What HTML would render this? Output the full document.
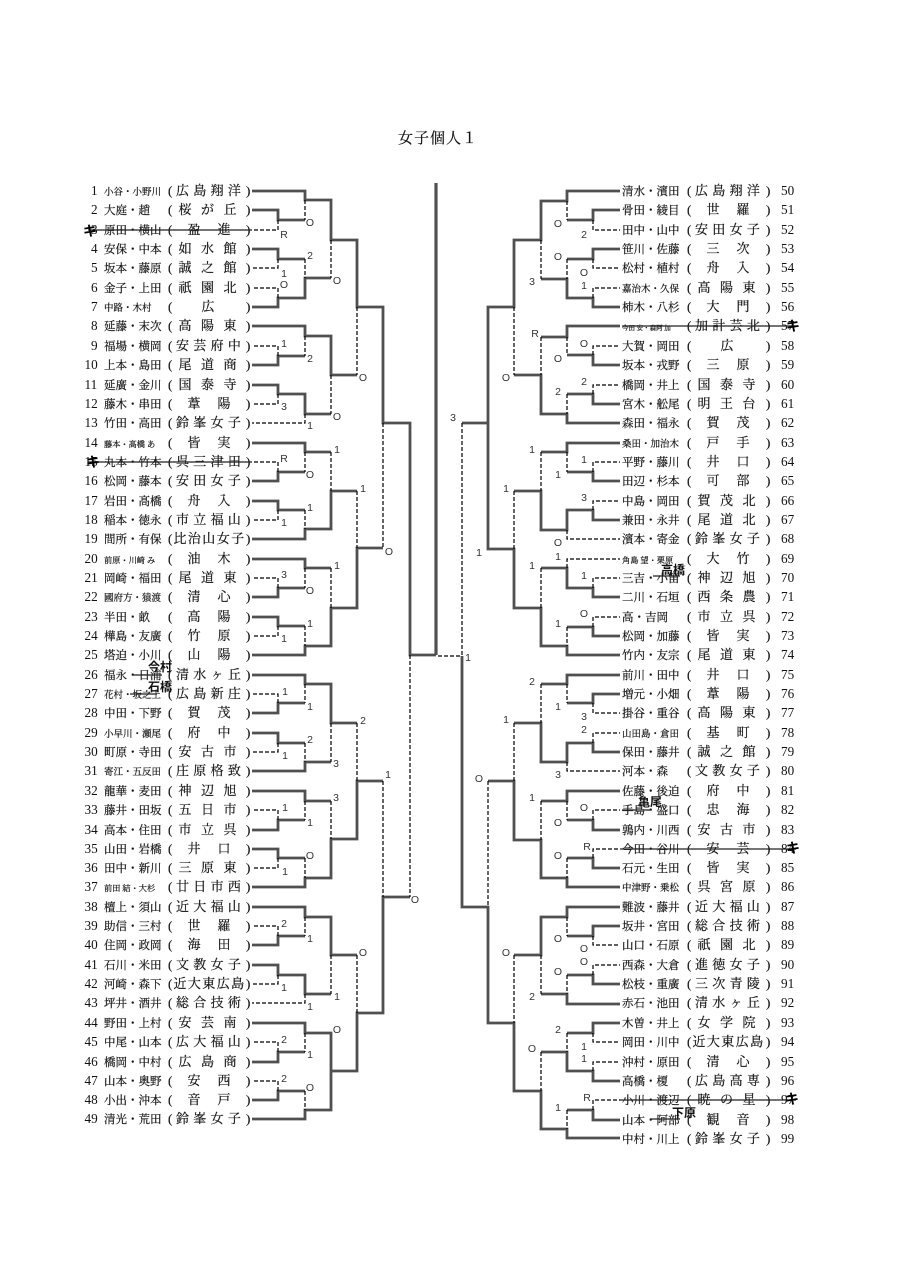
<!DOCTYPE html>
<html lang="ja"><head><meta charset="utf-8"><title>女子個人1</title>
<style>
html,body{margin:0;padding:0;background:#fff}
svg{display:block}
text{font-family:"Liberation Serif","Noto Serif CJK SC","Noto Serif CJK JP",serif;font-size:11.5px;fill:#111;stroke:#222;stroke-width:.22px}
.n{font-size:13.2px;stroke-width:0}
.a{font-size:9.5px}.b{font-size:8.2px}.c{font-size:6.5px}
.p{font-size:13px}
.s1,.s2,.s3,.s4,.s5{font-size:13px}
.s2{letter-spacing:17px}.s3{letter-spacing:9.5px}.s4{letter-spacing:4.3px}.s5{letter-spacing:1.4px}
.l text{font-family:"Liberation Sans",sans-serif;font-size:10.5px;text-anchor:middle;fill:#333;stroke-width:0}
.o text{font-family:"Noto Sans CJK JP",sans-serif;font-size:12px;font-weight:700;fill:#111;stroke-width:0}
.k text{font-family:"Noto Sans CJK JP",sans-serif;font-size:14px;font-weight:700;text-anchor:middle;fill:#000;stroke-width:0}
</style></head><body>
<svg width="905" height="1280" viewBox="0 0 905 1280" xmlns="http://www.w3.org/2000/svg">
<rect width="905" height="1280" fill="#fff"/>
<text x="398" y="143" style="font-size:15px;letter-spacing:1px">女子個人１</text>

<path fill="none" stroke="#505050" stroke-width="2.8" d="M252 191H305V200H331V240H357V307H383V423H410V655H436
M252 210H278V220H305
M252 249H278V259H305
M331 278H305V298H278V307H252
M252 326H305V336H331V375H357
M252 365H278V356H305
M252 385H278V394H305V414H331
M252 443H305V452H331
M252 481H278V472H305
M357 491H331V529H305V539H252
M252 501H278V510H305
M383 548H357V608H331V646H305V655H252
M252 559H305V568H331
M252 597H278V588H305
M252 617H278V626H305
M252 675H305V684H331V723H357
M252 713H278V703H305
M252 733H278V743H305
M252 771H305V762H331
M252 791H305V801H331
M252 830H278V820H305
M383 781H357V839H331V878H305V887H252
M252 849H278V858H305
M410 897H383V1013H357V1071H331
M252 907H305V917H331V955H357
M252 945H278V936H305
M252 965H278V975H305V994H331
M252 1023H305V1033H331V1110H305V1119H252
M252 1062H278V1052H305
M252 1100H278V1091H305
M620 191H567V201H541V240H514V307H488V549H514V608H541V646H567V655H620
M462 423H488
M620 210H593V220H567
M620 249H593V259H567
M514 375H541V414H567V423H620
M541 279H567V298H593V307H620
M620 326H567V337H541
M620 365H593V355H567
M620 404H593V394H567
M620 443H567V452H541
M620 481H593V472H567
M514 491H541V530H567V510H593V520H620
M541 568H567V588H593V597H620
M567 627H593V636H620
M620 675H567V684H541
M620 694H593V703H567
M514 723H541V762H567V743H593V752H620
M488 781H514V840H541V878H567V887H620
M620 791H567V801H541
M620 830H593V820H567
M620 868H593V858H567
M462 656V907H488V1023H514V1091H541V1129H567V1138H620
M514 955H541V917H567V907H620
M620 926H593V936H567
M541 994H567V1004H620
M567 975H593V984H620
M541 1052H567V1071H593V1081H620
M567 1033H593V1023H620
M567 1110H593V1120H620"/>
<path fill="none" stroke="#505050" stroke-width="3.2" d="M436 183V655"/>

<path fill="none" stroke="#000" stroke-width="1.2" stroke-dasharray="4 2" d="M305 200V220M278 220V230H252M331 240V278M305 259V278M278 259V268H252M278 298V288H252M357 307V375M305 336V356M278 356V346H252M331 375V414M278 394V404H252M305 414V423H252M383 423V548M305 452V472M278 472V462H252M331 452V491M357 491V548M278 510V520H252M305 510V529M305 568V588M278 588V578H252M331 568V608M278 626V636H252M305 626V646M410 655V897M305 684V703M278 703V694H252M331 723V762M305 743V762M278 743V752H252M357 723V781M305 801V820M278 820V810H252M331 801V839M305 858V878M278 858V868H252M383 781V897M305 917V936M278 936V926H252M331 955V994M278 975V984H252M305 994V1003H252M357 955V1013M305 1033V1052M278 1052V1042H252M278 1091V1081H252M305 1091V1110
M438 656H462M462 423V655
M567 201V220M593 220V230H620M567 259V279M593 259V268H620M593 298V288H620M541 240V279M514 307V375M541 337V375M567 337V355M593 355V346H620M593 394V385H620M567 394V414M567 452V472M593 472V462H620M541 452V491M514 491V549M593 510V501H620M567 530V539H620M567 568V559H620M593 588V578H620M541 568V608M593 627V617H620M567 627V646M567 684V703M593 703V713H620M541 684V723M514 723V781M593 743V733H620M567 762V771H620M488 781V907M567 801V820M593 820V810H620M541 801V840M567 858V878M593 858V849H620M567 917V936M593 936V945H620M514 955V1023M541 955V994M567 975V994M593 975V965H620M567 1033V1052M593 1033V1042H620M541 1052V1091M593 1071V1062H620M593 1110V1100H620M567 1110V1129"/>

<g>
<text y="195"><tspan class="n" x="91">1</tspan><tspan class="a" x="104">小谷・小野川</tspan><tspan class="p" x="168">(</tspan><tspan class="s4" x="176">広島翔洋</tspan><tspan class="p" x="246">)</tspan></text>
<text y="214"><tspan class="n" x="91">2</tspan><tspan x="104">大庭・趙</tspan><tspan class="p" x="168">(</tspan><tspan class="s3" x="178.5">桜が丘</tspan><tspan class="p" x="246">)</tspan></text>
<text y="234"><tspan class="n" x="91">3</tspan><tspan x="104">原田・横山</tspan><tspan class="p" x="168">(</tspan><tspan class="s2" x="187.5">盈進</tspan><tspan class="p" x="246">)</tspan></text>
<text y="253"><tspan class="n" x="91">4</tspan><tspan x="104">安保・中本</tspan><tspan class="p" x="168">(</tspan><tspan class="s3" x="178.5">如水館</tspan><tspan class="p" x="246">)</tspan></text>
<text y="272"><tspan class="n" x="91">5</tspan><tspan x="104">坂本・藤原</tspan><tspan class="p" x="168">(</tspan><tspan class="s3" x="178.5">誠之館</tspan><tspan class="p" x="246">)</tspan></text>
<text y="292"><tspan class="n" x="91">6</tspan><tspan x="104">金子・上田</tspan><tspan class="p" x="168">(</tspan><tspan class="s3" x="178.5">祇園北</tspan><tspan class="p" x="246">)</tspan></text>
<text y="311"><tspan class="n" x="91">7</tspan><tspan class="a" x="104">中路・木村</tspan><tspan class="p" x="168">(</tspan><tspan class="s1" x="201.5">広</tspan><tspan class="p" x="246">)</tspan></text>
<text y="330"><tspan class="n" x="91">8</tspan><tspan x="104">延藤・末次</tspan><tspan class="p" x="168">(</tspan><tspan class="s3" x="178.5">高陽東</tspan><tspan class="p" x="246">)</tspan></text>
<text y="350"><tspan class="n" x="91">9</tspan><tspan x="104">福場・横岡</tspan><tspan class="p" x="168">(</tspan><tspan class="s4" x="176">安芸府中</tspan><tspan class="p" x="246">)</tspan></text>
<text y="369"><tspan class="n" x="84.5">10</tspan><tspan x="104">上本・島田</tspan><tspan class="p" x="168">(</tspan><tspan class="s3" x="178.5">尾道商</tspan><tspan class="p" x="246">)</tspan></text>
<text y="389"><tspan class="n" x="84.5">11</tspan><tspan x="104">延廣・金川</tspan><tspan class="p" x="168">(</tspan><tspan class="s3" x="178.5">国泰寺</tspan><tspan class="p" x="246">)</tspan></text>
<text y="408"><tspan class="n" x="84.5">12</tspan><tspan x="104">藤木・串田</tspan><tspan class="p" x="168">(</tspan><tspan class="s2" x="187.5">葦陽</tspan><tspan class="p" x="246">)</tspan></text>
<text y="427"><tspan class="n" x="84.5">13</tspan><tspan x="104">竹田・高田</tspan><tspan class="p" x="168">(</tspan><tspan class="s4" x="176">鈴峯女子</tspan><tspan class="p" x="246">)</tspan></text>
<text y="447"><tspan class="n" x="84.5">14</tspan><tspan class="b" x="104">藤本・髙橋 あ</tspan><tspan class="p" x="168">(</tspan><tspan class="s2" x="187.5">皆実</tspan><tspan class="p" x="246">)</tspan></text>
<text y="466"><tspan class="n" x="84.5">15</tspan><tspan x="104">丸本・竹本</tspan><tspan class="p" x="168">(</tspan><tspan class="s4" x="176">呉三津田</tspan><tspan class="p" x="246">)</tspan></text>
<text y="485"><tspan class="n" x="84.5">16</tspan><tspan x="104">松岡・藤本</tspan><tspan class="p" x="168">(</tspan><tspan class="s4" x="176">安田女子</tspan><tspan class="p" x="246">)</tspan></text>
<text y="505"><tspan class="n" x="84.5">17</tspan><tspan x="104">岩田・髙橋</tspan><tspan class="p" x="168">(</tspan><tspan class="s2" x="187.5">舟入</tspan><tspan class="p" x="246">)</tspan></text>
<text y="524"><tspan class="n" x="84.5">18</tspan><tspan x="104">稲本・徳永</tspan><tspan class="p" x="168">(</tspan><tspan class="s4" x="176">市立福山</tspan><tspan class="p" x="246">)</tspan></text>
<text y="543"><tspan class="n" x="84.5">19</tspan><tspan x="104">間所・有保</tspan><tspan class="p" x="168">(</tspan><tspan class="s5" x="173.5">比治山女子</tspan><tspan class="p" x="246">)</tspan></text>
<text y="563"><tspan class="n" x="84.5">20</tspan><tspan class="b" x="104">前原・川崎 み</tspan><tspan class="p" x="168">(</tspan><tspan class="s2" x="187.5">油木</tspan><tspan class="p" x="246">)</tspan></text>
<text y="582"><tspan class="n" x="84.5">21</tspan><tspan x="104">岡崎・福田</tspan><tspan class="p" x="168">(</tspan><tspan class="s3" x="178.5">尾道東</tspan><tspan class="p" x="246">)</tspan></text>
<text y="601"><tspan class="n" x="84.5">22</tspan><tspan class="a" x="104">國府方・猿渡</tspan><tspan class="p" x="168">(</tspan><tspan class="s2" x="187.5">清心</tspan><tspan class="p" x="246">)</tspan></text>
<text y="621"><tspan class="n" x="84.5">23</tspan><tspan x="104">半田・畝</tspan><tspan class="p" x="168">(</tspan><tspan class="s2" x="187.5">高陽</tspan><tspan class="p" x="246">)</tspan></text>
<text y="640"><tspan class="n" x="84.5">24</tspan><tspan x="104">樺島・友廣</tspan><tspan class="p" x="168">(</tspan><tspan class="s2" x="187.5">竹原</tspan><tspan class="p" x="246">)</tspan></text>
<text y="659"><tspan class="n" x="84.5">25</tspan><tspan x="104">塔迫・小川</tspan><tspan class="p" x="168">(</tspan><tspan class="s2" x="187.5">山陽</tspan><tspan class="p" x="246">)</tspan></text>
<text y="679"><tspan class="n" x="84.5">26</tspan><tspan x="104">福永・日浦</tspan><tspan class="p" x="168">(</tspan><tspan class="s4" x="176">清水ヶ丘</tspan><tspan class="p" x="246">)</tspan></text>
<text y="698"><tspan class="n" x="84.5">27</tspan><tspan class="a" x="104">花村・坂之上</tspan><tspan class="p" x="168">(</tspan><tspan class="s4" x="176">広島新庄</tspan><tspan class="p" x="246">)</tspan></text>
<text y="717"><tspan class="n" x="84.5">28</tspan><tspan x="104">中田・下野</tspan><tspan class="p" x="168">(</tspan><tspan class="s2" x="187.5">賀茂</tspan><tspan class="p" x="246">)</tspan></text>
<text y="737"><tspan class="n" x="84.5">29</tspan><tspan class="a" x="104">小早川・瀬尾</tspan><tspan class="p" x="168">(</tspan><tspan class="s2" x="187.5">府中</tspan><tspan class="p" x="246">)</tspan></text>
<text y="756"><tspan class="n" x="84.5">30</tspan><tspan x="104">町原・寺田</tspan><tspan class="p" x="168">(</tspan><tspan class="s3" x="178.5">安古市</tspan><tspan class="p" x="246">)</tspan></text>
<text y="775"><tspan class="n" x="84.5">31</tspan><tspan class="a" x="104">寄江・五反田</tspan><tspan class="p" x="168">(</tspan><tspan class="s4" x="176">庄原格致</tspan><tspan class="p" x="246">)</tspan></text>
<text y="795"><tspan class="n" x="84.5">32</tspan><tspan x="104">龍華・麦田</tspan><tspan class="p" x="168">(</tspan><tspan class="s3" x="178.5">神辺旭</tspan><tspan class="p" x="246">)</tspan></text>
<text y="814"><tspan class="n" x="84.5">33</tspan><tspan x="104">藤井・田坂</tspan><tspan class="p" x="168">(</tspan><tspan class="s3" x="178.5">五日市</tspan><tspan class="p" x="246">)</tspan></text>
<text y="834"><tspan class="n" x="84.5">34</tspan><tspan x="104">高本・住田</tspan><tspan class="p" x="168">(</tspan><tspan class="s3" x="178.5">市立呉</tspan><tspan class="p" x="246">)</tspan></text>
<text y="853"><tspan class="n" x="84.5">35</tspan><tspan x="104">山田・岩橋</tspan><tspan class="p" x="168">(</tspan><tspan class="s2" x="187.5">井口</tspan><tspan class="p" x="246">)</tspan></text>
<text y="872"><tspan class="n" x="84.5">36</tspan><tspan x="104">田中・新川</tspan><tspan class="p" x="168">(</tspan><tspan class="s3" x="178.5">三原東</tspan><tspan class="p" x="246">)</tspan></text>
<text y="891"><tspan class="n" x="84.5">37</tspan><tspan class="b" x="104">前田 結・大杉</tspan><tspan class="p" x="168">(</tspan><tspan class="s4" x="176">廿日市西</tspan><tspan class="p" x="246">)</tspan></text>
<text y="911"><tspan class="n" x="84.5">38</tspan><tspan x="104">檀上・須山</tspan><tspan class="p" x="168">(</tspan><tspan class="s4" x="176">近大福山</tspan><tspan class="p" x="246">)</tspan></text>
<text y="930"><tspan class="n" x="84.5">39</tspan><tspan x="104">助信・三村</tspan><tspan class="p" x="168">(</tspan><tspan class="s2" x="187.5">世羅</tspan><tspan class="p" x="246">)</tspan></text>
<text y="949"><tspan class="n" x="84.5">40</tspan><tspan x="104">住岡・政岡</tspan><tspan class="p" x="168">(</tspan><tspan class="s2" x="187.5">海田</tspan><tspan class="p" x="246">)</tspan></text>
<text y="969"><tspan class="n" x="84.5">41</tspan><tspan x="104">石川・米田</tspan><tspan class="p" x="168">(</tspan><tspan class="s4" x="176">文教女子</tspan><tspan class="p" x="246">)</tspan></text>
<text y="988"><tspan class="n" x="84.5">42</tspan><tspan x="104">河崎・森下</tspan><tspan class="p" x="168">(</tspan><tspan class="s5" x="173.5">近大東広島</tspan><tspan class="p" x="246">)</tspan></text>
<text y="1007"><tspan class="n" x="84.5">43</tspan><tspan x="104">坪井・酒井</tspan><tspan class="p" x="168">(</tspan><tspan class="s4" x="176">総合技術</tspan><tspan class="p" x="246">)</tspan></text>
<text y="1027"><tspan class="n" x="84.5">44</tspan><tspan x="104">野田・上村</tspan><tspan class="p" x="168">(</tspan><tspan class="s3" x="178.5">安芸南</tspan><tspan class="p" x="246">)</tspan></text>
<text y="1046"><tspan class="n" x="84.5">45</tspan><tspan x="104">中尾・山本</tspan><tspan class="p" x="168">(</tspan><tspan class="s4" x="176">広大福山</tspan><tspan class="p" x="246">)</tspan></text>
<text y="1066"><tspan class="n" x="84.5">46</tspan><tspan x="104">橋岡・中村</tspan><tspan class="p" x="168">(</tspan><tspan class="s3" x="178.5">広島商</tspan><tspan class="p" x="246">)</tspan></text>
<text y="1085"><tspan class="n" x="84.5">47</tspan><tspan x="104">山本・奥野</tspan><tspan class="p" x="168">(</tspan><tspan class="s2" x="187.5">安西</tspan><tspan class="p" x="246">)</tspan></text>
<text y="1104"><tspan class="n" x="84.5">48</tspan><tspan x="104">小出・沖本</tspan><tspan class="p" x="168">(</tspan><tspan class="s2" x="187.5">音戸</tspan><tspan class="p" x="246">)</tspan></text>
<text y="1123"><tspan class="n" x="84.5">49</tspan><tspan x="104">清光・荒田</tspan><tspan class="p" x="168">(</tspan><tspan class="s4" x="176">鈴峯女子</tspan><tspan class="p" x="246">)</tspan></text>

<text y="195"><tspan x="622">清水・濱田</tspan><tspan class="p" x="687">(</tspan><tspan class="s4" x="695">広島翔洋</tspan><tspan class="p" x="766">)</tspan><tspan class="n" x="781">50</tspan></text>
<text y="214"><tspan x="622">骨田・綾目</tspan><tspan class="p" x="687">(</tspan><tspan class="s2" x="706.5">世羅</tspan><tspan class="p" x="766">)</tspan><tspan class="n" x="781">51</tspan></text>
<text y="234"><tspan x="622">田中・山中</tspan><tspan class="p" x="687">(</tspan><tspan class="s4" x="695">安田女子</tspan><tspan class="p" x="766">)</tspan><tspan class="n" x="781">52</tspan></text>
<text y="253"><tspan x="622">笹川・佐藤</tspan><tspan class="p" x="687">(</tspan><tspan class="s2" x="706.5">三次</tspan><tspan class="p" x="766">)</tspan><tspan class="n" x="781">53</tspan></text>
<text y="272"><tspan x="622">松村・植村</tspan><tspan class="p" x="687">(</tspan><tspan class="s2" x="706.5">舟入</tspan><tspan class="p" x="766">)</tspan><tspan class="n" x="781">54</tspan></text>
<text y="292"><tspan class="a" x="622">嘉治木・久保</tspan><tspan class="p" x="687">(</tspan><tspan class="s3" x="697.5">高陽東</tspan><tspan class="p" x="766">)</tspan><tspan class="n" x="781">55</tspan></text>
<text y="311"><tspan x="622">柿木・八杉</tspan><tspan class="p" x="687">(</tspan><tspan class="s2" x="706.5">大門</tspan><tspan class="p" x="766">)</tspan><tspan class="n" x="781">56</tspan></text>
<text y="330"><tspan class="c" x="622">今田 安・森阿 加</tspan><tspan class="p" x="687">(</tspan><tspan class="s4" x="695">加計芸北</tspan><tspan class="p" x="766">)</tspan><tspan class="n" x="781">57</tspan></text>
<text y="350"><tspan x="622">大賀・岡田</tspan><tspan class="p" x="687">(</tspan><tspan class="s1" x="720.5">広</tspan><tspan class="p" x="766">)</tspan><tspan class="n" x="781">58</tspan></text>
<text y="369"><tspan x="622">坂本・戎野</tspan><tspan class="p" x="687">(</tspan><tspan class="s2" x="706.5">三原</tspan><tspan class="p" x="766">)</tspan><tspan class="n" x="781">59</tspan></text>
<text y="389"><tspan x="622">橋岡・井上</tspan><tspan class="p" x="687">(</tspan><tspan class="s3" x="697.5">国泰寺</tspan><tspan class="p" x="766">)</tspan><tspan class="n" x="781">60</tspan></text>
<text y="408"><tspan x="622">宮木・舩尾</tspan><tspan class="p" x="687">(</tspan><tspan class="s3" x="697.5">明王台</tspan><tspan class="p" x="766">)</tspan><tspan class="n" x="781">61</tspan></text>
<text y="427"><tspan x="622">森田・福永</tspan><tspan class="p" x="687">(</tspan><tspan class="s2" x="706.5">賀茂</tspan><tspan class="p" x="766">)</tspan><tspan class="n" x="781">62</tspan></text>
<text y="447"><tspan class="a" x="622">桑田・加治木</tspan><tspan class="p" x="687">(</tspan><tspan class="s2" x="706.5">戸手</tspan><tspan class="p" x="766">)</tspan><tspan class="n" x="781">63</tspan></text>
<text y="466"><tspan x="622">平野・藤川</tspan><tspan class="p" x="687">(</tspan><tspan class="s2" x="706.5">井口</tspan><tspan class="p" x="766">)</tspan><tspan class="n" x="781">64</tspan></text>
<text y="485"><tspan x="622">田辺・杉本</tspan><tspan class="p" x="687">(</tspan><tspan class="s2" x="706.5">可部</tspan><tspan class="p" x="766">)</tspan><tspan class="n" x="781">65</tspan></text>
<text y="505"><tspan x="622">中島・岡田</tspan><tspan class="p" x="687">(</tspan><tspan class="s3" x="697.5">賀茂北</tspan><tspan class="p" x="766">)</tspan><tspan class="n" x="781">66</tspan></text>
<text y="524"><tspan x="622">兼田・永井</tspan><tspan class="p" x="687">(</tspan><tspan class="s3" x="697.5">尾道北</tspan><tspan class="p" x="766">)</tspan><tspan class="n" x="781">67</tspan></text>
<text y="543"><tspan x="622">濱本・寄金</tspan><tspan class="p" x="687">(</tspan><tspan class="s4" x="695">鈴峯女子</tspan><tspan class="p" x="766">)</tspan><tspan class="n" x="781">68</tspan></text>
<text y="563"><tspan class="b" x="622">角島 望・栗原</tspan><tspan class="p" x="687">(</tspan><tspan class="s2" x="706.5">大竹</tspan><tspan class="p" x="766">)</tspan><tspan class="n" x="781">69</tspan></text>
<text y="582"><tspan x="622">三吉・小笛</tspan><tspan class="p" x="687">(</tspan><tspan class="s3" x="697.5">神辺旭</tspan><tspan class="p" x="766">)</tspan><tspan class="n" x="781">70</tspan></text>
<text y="601"><tspan x="622">二川・石垣</tspan><tspan class="p" x="687">(</tspan><tspan class="s3" x="697.5">西条農</tspan><tspan class="p" x="766">)</tspan><tspan class="n" x="781">71</tspan></text>
<text y="621"><tspan x="622">高・吉岡</tspan><tspan class="p" x="687">(</tspan><tspan class="s3" x="697.5">市立呉</tspan><tspan class="p" x="766">)</tspan><tspan class="n" x="781">72</tspan></text>
<text y="640"><tspan x="622">松岡・加藤</tspan><tspan class="p" x="687">(</tspan><tspan class="s2" x="706.5">皆実</tspan><tspan class="p" x="766">)</tspan><tspan class="n" x="781">73</tspan></text>
<text y="659"><tspan x="622">竹内・友宗</tspan><tspan class="p" x="687">(</tspan><tspan class="s3" x="697.5">尾道東</tspan><tspan class="p" x="766">)</tspan><tspan class="n" x="781">74</tspan></text>
<text y="679"><tspan x="622">前川・田中</tspan><tspan class="p" x="687">(</tspan><tspan class="s2" x="706.5">井口</tspan><tspan class="p" x="766">)</tspan><tspan class="n" x="781">75</tspan></text>
<text y="698"><tspan x="622">増元・小畑</tspan><tspan class="p" x="687">(</tspan><tspan class="s2" x="706.5">葦陽</tspan><tspan class="p" x="766">)</tspan><tspan class="n" x="781">76</tspan></text>
<text y="717"><tspan x="622">掛谷・重谷</tspan><tspan class="p" x="687">(</tspan><tspan class="s3" x="697.5">高陽東</tspan><tspan class="p" x="766">)</tspan><tspan class="n" x="781">77</tspan></text>
<text y="737"><tspan class="a" x="622">山田島・倉田</tspan><tspan class="p" x="687">(</tspan><tspan class="s2" x="706.5">基町</tspan><tspan class="p" x="766">)</tspan><tspan class="n" x="781">78</tspan></text>
<text y="756"><tspan x="622">保田・藤井</tspan><tspan class="p" x="687">(</tspan><tspan class="s3" x="697.5">誠之館</tspan><tspan class="p" x="766">)</tspan><tspan class="n" x="781">79</tspan></text>
<text y="775"><tspan x="622">河本・森</tspan><tspan class="p" x="687">(</tspan><tspan class="s4" x="695">文教女子</tspan><tspan class="p" x="766">)</tspan><tspan class="n" x="781">80</tspan></text>
<text y="795"><tspan x="622">佐藤・後迫</tspan><tspan class="p" x="687">(</tspan><tspan class="s2" x="706.5">府中</tspan><tspan class="p" x="766">)</tspan><tspan class="n" x="781">81</tspan></text>
<text y="814"><tspan x="622">手島・盛口</tspan><tspan class="p" x="687">(</tspan><tspan class="s2" x="706.5">忠海</tspan><tspan class="p" x="766">)</tspan><tspan class="n" x="781">82</tspan></text>
<text y="834"><tspan x="622">鶉内・川西</tspan><tspan class="p" x="687">(</tspan><tspan class="s3" x="697.5">安古市</tspan><tspan class="p" x="766">)</tspan><tspan class="n" x="781">83</tspan></text>
<text y="853"><tspan x="622">今田・谷川</tspan><tspan class="p" x="687">(</tspan><tspan class="s2" x="706.5">安芸</tspan><tspan class="p" x="766">)</tspan><tspan class="n" x="781">84</tspan></text>
<text y="872"><tspan x="622">石元・生田</tspan><tspan class="p" x="687">(</tspan><tspan class="s2" x="706.5">皆実</tspan><tspan class="p" x="766">)</tspan><tspan class="n" x="781">85</tspan></text>
<text y="891"><tspan class="a" x="622">中津野・乗松</tspan><tspan class="p" x="687">(</tspan><tspan class="s3" x="697.5">呉宮原</tspan><tspan class="p" x="766">)</tspan><tspan class="n" x="781">86</tspan></text>
<text y="911"><tspan x="622">難波・藤井</tspan><tspan class="p" x="687">(</tspan><tspan class="s4" x="695">近大福山</tspan><tspan class="p" x="766">)</tspan><tspan class="n" x="781">87</tspan></text>
<text y="930"><tspan x="622">坂井・宮田</tspan><tspan class="p" x="687">(</tspan><tspan class="s4" x="695">総合技術</tspan><tspan class="p" x="766">)</tspan><tspan class="n" x="781">88</tspan></text>
<text y="949"><tspan x="622">山口・石原</tspan><tspan class="p" x="687">(</tspan><tspan class="s3" x="697.5">祇園北</tspan><tspan class="p" x="766">)</tspan><tspan class="n" x="781">89</tspan></text>
<text y="969"><tspan x="622">西森・大倉</tspan><tspan class="p" x="687">(</tspan><tspan class="s4" x="695">進徳女子</tspan><tspan class="p" x="766">)</tspan><tspan class="n" x="781">90</tspan></text>
<text y="988"><tspan x="622">松枝・重廣</tspan><tspan class="p" x="687">(</tspan><tspan class="s4" x="695">三次青陵</tspan><tspan class="p" x="766">)</tspan><tspan class="n" x="781">91</tspan></text>
<text y="1007"><tspan x="622">赤石・池田</tspan><tspan class="p" x="687">(</tspan><tspan class="s4" x="695">清水ヶ丘</tspan><tspan class="p" x="766">)</tspan><tspan class="n" x="781">92</tspan></text>
<text y="1027"><tspan x="622">木曽・井上</tspan><tspan class="p" x="687">(</tspan><tspan class="s3" x="697.5">女学院</tspan><tspan class="p" x="766">)</tspan><tspan class="n" x="781">93</tspan></text>
<text y="1046"><tspan x="622">岡田・川中</tspan><tspan class="p" x="687">(</tspan><tspan class="s5" x="692.5">近大東広島</tspan><tspan class="p" x="766">)</tspan><tspan class="n" x="781">94</tspan></text>
<text y="1066"><tspan x="622">沖村・原田</tspan><tspan class="p" x="687">(</tspan><tspan class="s2" x="706.5">清心</tspan><tspan class="p" x="766">)</tspan><tspan class="n" x="781">95</tspan></text>
<text y="1085"><tspan x="622">高橋・榎</tspan><tspan class="p" x="687">(</tspan><tspan class="s4" x="695">広島高専</tspan><tspan class="p" x="766">)</tspan><tspan class="n" x="781">96</tspan></text>
<text y="1104"><tspan x="622">小川・渡辺</tspan><tspan class="p" x="687">(</tspan><tspan class="s3" x="697.5">暁の星</tspan><tspan class="p" x="766">)</tspan><tspan class="n" x="781">97</tspan></text>
<text y="1124"><tspan x="622">山本・阿部</tspan><tspan class="p" x="687">(</tspan><tspan class="s2" x="706.5">観音</tspan><tspan class="p" x="766">)</tspan><tspan class="n" x="781">98</tspan></text>
<text y="1143"><tspan x="622">中村・川上</tspan><tspan class="p" x="687">(</tspan><tspan class="s4" x="695">鈴峯女子</tspan><tspan class="p" x="766">)</tspan><tspan class="n" x="781">99</tspan></text>
</g>

<g class="l">
<text x="310" y="226">O</text><text x="284" y="238">R</text><text x="310" y="259">2</text><text x="284" y="277">1</text><text x="284" y="288">O</text><text x="337" y="284">O</text><text x="284" y="347">1</text><text x="310" y="362">2</text><text x="363" y="381">O</text><text x="284" y="410">3</text><text x="337" y="420">O</text><text x="310" y="429">1</text>
<text x="337" y="453">1</text><text x="284" y="462">R</text><text x="310" y="478">O</text><text x="363" y="492">1</text><text x="310" y="511">1</text><text x="284" y="526">1</text><text x="389" y="555">O</text><text x="337" y="569">1</text><text x="284" y="578">3</text><text x="310" y="594">O</text><text x="310" y="627">1</text><text x="284" y="642">1</text>
<text x="285" y="695">1</text><text x="310" y="710">1</text><text x="363" y="724">2</text><text x="310" y="743">2</text><text x="285" y="759">1</text><text x="336" y="767">3</text><text x="388" y="778">1</text><text x="336" y="801">3</text><text x="285" y="811">1</text><text x="310" y="826">1</text><text x="310" y="859">O</text><text x="285" y="875">1</text>
<text x="415" y="903">O</text><text x="284" y="927">2</text><text x="310" y="942">1</text><text x="363" y="956">O</text><text x="284" y="991">1</text><text x="337" y="1000">1</text><text x="310" y="1010">1</text><text x="337" y="1033">O</text><text x="284" y="1043">2</text><text x="310" y="1058">1</text><text x="284" y="1082">2</text><text x="310" y="1091">O</text>

<text x="558" y="227">O</text><text x="584" y="238">2</text><text x="558" y="260">O</text><text x="584" y="276">O</text><text x="584" y="289">1</text><text x="532" y="285">3</text><text x="535" y="337">R</text><text x="584" y="347">O</text><text x="558" y="362">O</text><text x="506" y="381">O</text><text x="584" y="385">2</text><text x="558" y="395">2</text><text x="453" y="421">3</text>
<text x="532" y="453">1</text><text x="584" y="463">1</text><text x="558" y="478">1</text><text x="506" y="492">1</text><text x="584" y="501">3</text><text x="558" y="546">O</text><text x="479" y="556">1</text><text x="558" y="560">1</text><text x="532" y="569">1</text><text x="584" y="579">1</text><text x="584" y="617">O</text><text x="558" y="627">1</text><text x="468" y="661">1</text>
<text x="532" y="685">2</text><text x="558" y="710">1</text><text x="584" y="720">3</text><text x="506" y="723">1</text><text x="584" y="733">2</text><text x="558" y="778">3</text><text x="479" y="782">O</text><text x="532" y="801">1</text><text x="584" y="811">O</text><text x="558" y="826">O</text><text x="587" y="850">R</text><text x="558" y="859">O</text>
<text x="558" y="942">O</text><text x="584" y="952">O</text><text x="584" y="965">O</text><text x="506" y="956">O</text><text x="558" y="975">O</text><text x="532" y="1000">2</text><text x="558" y="1033">2</text><text x="584" y="1050">1</text><text x="532" y="1052">O</text><text x="584" y="1062">1</text><text x="587" y="1101">R</text><text x="558" y="1111">1</text>
</g>

<path fill="none" stroke="#222" stroke-width="1.2" d="M88 230H252M88 462H252M622 326H796M620 849H796M620 1100H796M133 675H162M130 694H157M653 576H680M622 810H650M650 1119H680"/>

<g class="o">
<text x="148" y="671">今村</text><text x="148" y="691">石橋</text>
<text x="661" y="574">高橋</text><text x="638" y="806">亀尾</text><text x="672" y="1117">下原</text>
</g>
<g class="k">
<text x="90" y="236">キ</text><text x="93" y="467">キ</text>
<text x="793" y="331">キ</text><text x="793" y="853">キ</text><text x="792" y="1104">キ</text>
</g>
</svg>
</body></html>
